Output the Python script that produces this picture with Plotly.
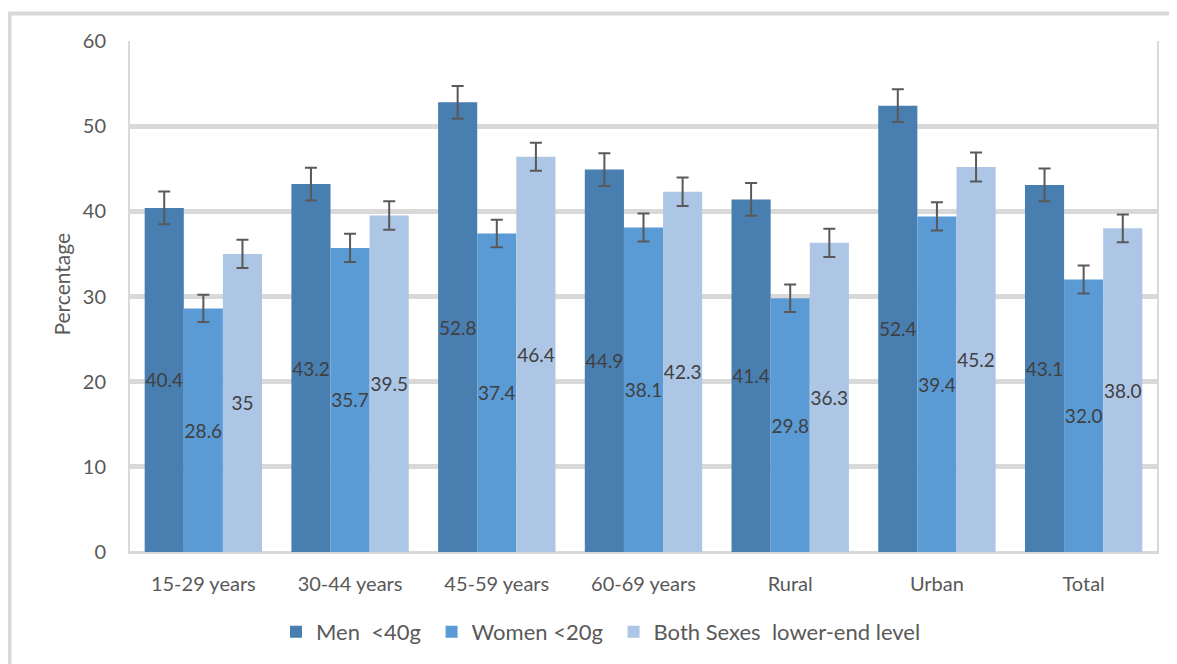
import plotly.graph_objects as go

categories = ["15-29 years", "30-44 years", "45-59 years", "60-69 years", "Rural", "Urban", "Total"]

men = [40.4, 43.2, 52.8, 44.9, 41.4, 52.4, 43.1]
women = [28.6, 35.7, 37.4, 38.1, 29.8, 39.4, 32.0]
both = [35.0, 39.5, 46.4, 42.3, 36.3, 45.2, 38.0]

men_labels = ["40.4", "43.2", "52.8", "44.9", "41.4", "52.4", "43.1"]
women_labels = ["28.6", "35.7", "37.4", "38.1", "29.8", "39.4", "32.0"]
both_labels = ["35", "39.5", "46.4", "42.3", "36.3", "45.2", "38.0"]

men_err = [1.92, 1.93, 1.93, 1.93, 1.93, 1.92, 1.93]
women_err = [1.6, 1.66, 1.62, 1.64, 1.62, 1.66, 1.64]
both_err = [1.66, 1.67, 1.64, 1.66, 1.66, 1.7, 1.64]

series_names = ["Men\u00a0 <40g\u00a0", "Women <20g\u00a0", "Both Sexes\u00a0 lower-end level"]
colors = ["#497EB0", "#5B9BD5", "#ADC6E6"]
y_title = "Percentage"

FONT = "Lato, Carlito, Calibri, sans-serif"
TXT = "#404040"
AX = "#595959"
GRID = "#D9D9D9"

# page has an 8px body margin; figure is sized so the plot area lands at
# x 130..1157, y 41..553 of the 1177x664 window
W, H = 1169, 656

fig = go.Figure()
for name, vals, labels, err, col in zip(series_names, [men, women, both],
                                        [men_labels, women_labels, both_labels],
                                        [men_err, women_err, both_err], colors):
    fig.add_trace(go.Bar(
        x=categories, y=vals, name=name,
        marker=dict(color=col, line=dict(width=0)),
        text=labels, textposition="inside", insidetextanchor="middle",
        textangle=0, constraintext="none",
        textfont=dict(family=FONT, size=19, color=TXT),
        error_y=dict(type="data", array=err, visible=True, color=AX, thickness=2, width=6),
    ))

fig.update_layout(
    width=W, height=H,
    paper_bgcolor="white", plot_bgcolor="white",
    margin=dict(l=122, r=20, t=33, b=111),
    barmode="group", bargap=0.2, bargroupgap=0,
    font=dict(family=FONT, size=20, color=AX),
    legend=dict(orientation="h", x=0.4586, xanchor="center", y=-0.154, yanchor="middle",
                font=dict(family=FONT, size=22, color=AX), traceorder="normal",
                itemwidth=30),
    showlegend=True,
)
fig.update_yaxes(
    range=[0, 60], dtick=10, tickfont=dict(family=FONT, size=20, color=AX),
    showgrid=True, gridcolor=GRID, gridwidth=5,
    zeroline=True, zerolinecolor=GRID, zerolinewidth=2,
    showline=True, linecolor=GRID, linewidth=2, mirror=True,
    ticks="", ticklabelstandoff=18,
)
fig.update_xaxes(
    tickfont=dict(family=FONT, size=20, color=AX),
    showline=True, linecolor=GRID, linewidth=2, mirror=False,
    ticks="", ticklabelstandoff=13,
)
fig.add_annotation(text=y_title, xref="paper", yref="paper",
                   x=(62 - 130) / 1027, y=(553 - 285) / 512,
                   xanchor="center", yanchor="middle", textangle=-90, showarrow=False,
                   font=dict(family=FONT, size=21, color=AX))
fig.add_shape(type="rect", xref="paper", yref="paper",
              x0=(9.5 - 130) / 1027, x1=(1190 - 130) / 1027,
              y0=(553 - 690) / 512, y1=(553 - 13.5) / 512,
              line=dict(color=GRID, width=4), fillcolor="rgba(0,0,0,0)", layer="below")

fig.write_html("out.html")
